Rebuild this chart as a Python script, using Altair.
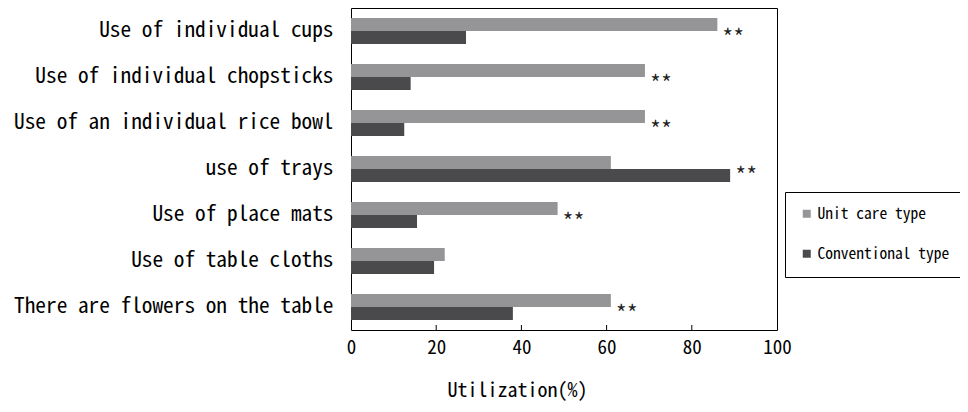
import altair as alt
import pandas as pd

categories = [
    "Use of individual cups",
    "Use of individual chopsticks",
    "Use of an individual rice bowl",
    "use of trays",
    "Use of place mats",
    "Use of table cloths",
    "There are flowers on the table",
]
unit_care = [86, 69, 69, 61, 48.5, 22, 61]
conventional = [27, 14, 12.5, 89, 15.5, 19.5, 38]
significance = ["**", "**", "**", "**", "**", "", "**"]
series_names = ["Unit care type", "Conventional type"]
series_colors = ["#959597", "#4a4a4c"]
x_ticks = [0, 20, 40, 60, 80, 100]

rows = []
for c, u, v in zip(categories, unit_care, conventional):
    rows.append({"item": c, "series": series_names[0], "value": u})
    rows.append({"item": c, "series": series_names[1], "value": v})
bars_df = pd.DataFrame(rows)
stars_df = pd.DataFrame({
    "item": categories,
    "pos": [max(u, v) for u, v in zip(unit_care, conventional)],
    "sig": significance,
})
ticks_df = pd.DataFrame({"tick": x_ticks[1:-1]})

FONT = "Noto Sans Mono CJK JP"
W, H = 426, 322

x_scale = alt.Scale(domain=[0, 100], nice=False, zero=True)
y_scale = alt.Scale(domain=categories, paddingInner=0.435, paddingOuter=0.22)

bars = alt.Chart(bars_df).mark_bar().encode(
    x=alt.X("value:Q", scale=x_scale,
            axis=alt.Axis(values=x_ticks, ticks=False, domain=False, grid=False,
                          labelFont=FONT, labelFontSize=19, labelPadding=8,
                          labelColor="black", labelFlush=False,
                          title="Utilization(%)", titleFont=FONT, titleFontSize=20,
                          titleFontWeight="normal", titleColor="black",
                          titleX=166, titleY=66, titleBaseline="alphabetic")),
    y=alt.Y("item:N", scale=y_scale, sort=categories,
            axis=alt.Axis(ticks=False, domain=False, grid=False, title=None,
                          labelFont=FONT, labelFontSize=21.3, labelPadding=18,
                          labelColor="black", labelLimit=500, labelBaseline="middle")),
    yOffset=alt.YOffset("series:N", sort=series_names,
                        scale=alt.Scale(domain=series_names, paddingInner=0, paddingOuter=0)),
    color=alt.Color("series:N", scale=alt.Scale(domain=series_names, range=series_colors),
                    legend=alt.Legend(orient="none", legendX=434, legendY=184, title=None,
                                      symbolType="square", symbolSize=64,
                                      symbolStrokeWidth=0, labelFont=FONT,
                                      labelFontSize=15.5, labelColor="black",
                                      labelOffset=3, padding=14, rowPadding=23,
                                      strokeColor="black", fillColor="white")),
)

stars = alt.Chart(stars_df).mark_text(
    align="left", baseline="middle", dx=5, dy=7, font=FONT, fontSize=22, color="#222"
).encode(
    x=alt.X("pos:Q", scale=x_scale),
    y=alt.Y("item:N", scale=y_scale, sort=categories),
    text="sig:N",
)

ticks = alt.Chart(ticks_df).mark_rule(color="black", strokeWidth=1).encode(
    x=alt.X("tick:Q", scale=x_scale),
    y=alt.value(H - 5),
    y2=alt.value(H),
)

chart = alt.layer(bars, stars, ticks).properties(
    width=W, height=H,
    padding={"left": 343, "top": 0, "right": 183, "bottom": 74},
    autosize=alt.AutoSizeParams(type="none"),
).configure_view(stroke="black", strokeWidth=1)

chart.save("out.html", embed_options={"renderer": "svg", "actions": False})
